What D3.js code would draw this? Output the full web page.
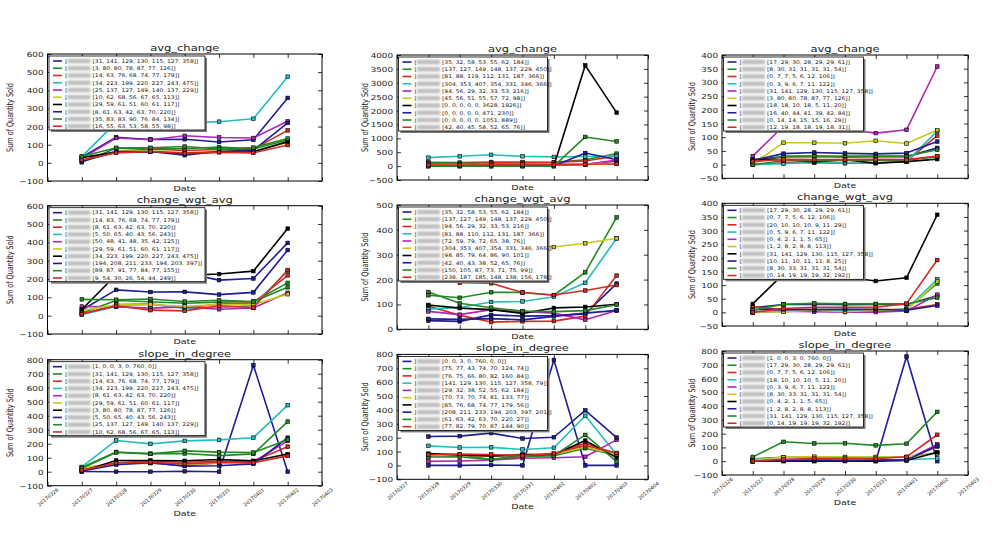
<!DOCTYPE html>
<html><head><meta charset="utf-8">
<script src="https://cdn.jsdelivr.net/npm/d3@7"></script>
<style>
body{margin:0;background:#fff}
svg{display:block}
text{font-family:"DejaVu Sans",sans-serif;fill:#1a1a1a}
</style>
</head><body>
<svg id="c" width="1000" height="541"></svg>
<script>
// ---------------- DATA ----------------
const datesA = ["20170326","20170327","20170328","20170329","20170330","20170331","20170401","20170402","20170403"];
const datesB = ["20170327","20170328","20170329","20170330","20170331","20170401","20170402","20170403","20170404"];
const titles = ["avg_change", "change_wgt_avg", "slope_in_degree"];
const yLabel = "Sum of Quantity Sold";
const xLabel = "Date";
const colorCycle = ["#1e1e96", "#238a23", "#d42a24", "#25bcbc", "#b424b4", "#c8c824", "#000000", "#1e1e96", "#238a23", "#d42a24"];

const yTicksA = [-100, 0, 100, 200, 300, 400, 500, 600];
const yTicksB = [-500, 0, 500, 1000, 1500, 2000, 2500, 3000, 3500, 4000];
const yTicksC = [-50, 0, 50, 100, 150, 200, 250, 300, 350, 400];
const yTicksD = [0, 100, 200, 300, 400, 500];
const yTicksE = [-100, 0, 100, 200, 300, 400, 500, 600, 700, 800];

const avgChangeA = [
  [31,141,129,130,115,127,358],
  [3,80,80,78,87,77,126],
  [14,63,76,68,74,77,179],
  [34,223,199,220,227,243,475],
  [25,137,127,149,140,137,229],
  [10,62,68,56,67,65,113],
  [29,59,61,51,60,61,117],
  [8,61,63,42,63,70,220],
  [35,83,83,90,76,84,134],
  [16,55,63,53,58,55,98]
];
const avgChangeB = [
  [35,32,58,53,55,62,184],
  [137,127,149,148,137,229,450],
  [81,88,119,112,131,187,366],
  [304,353,407,354,331,346,366],
  [94,56,29,32,33,53,216],
  [45,56,51,55,57,72,98],
  [0,0,0,0,0,3628,1926],
  [0,0,0,0,0,471,230],
  [0,0,0,0,0,1051,889],
  [42,40,45,58,52,65,76]
];
const avgChangeC = [
  [17,29,30,28,29,29,61],
  [8,30,31,31,31,31,54],
  [0,7,7,5,6,12,106],
  [0,3,9,6,7,11,122],
  [31,141,129,130,115,127,358],
  [3,80,80,78,87,77,126],
  [18,18,10,18,5,11,20],
  [16,40,44,41,39,42,84],
  [0,14,14,15,15,16,29],
  [12,19,18,18,19,18,31]
];
const wgtAvgA = [
  [31,141,129,130,115,127,358],
  [14,83,76,68,74,77,179],
  [8,61,63,42,63,70,220],
  [5,50,65,40,43,56,243],
  [50,48,41,48,35,42,125],
  [29,59,61,51,60,61,117],
  [34,223,199,220,227,243,475],
  [194,208,211,233,194,203,397],
  [89,87,91,77,84,77,155],
  [9,54,30,26,54,44,249]
];
const wgtAvgB = [
  [35,32,58,53,55,62,184],
  [137,127,149,148,137,229,450],
  [94,56,29,32,33,53,216],
  [81,88,110,112,131,187,366],
  [72,59,79,72,65,38,76],
  [304,353,407,354,331,346,366],
  [98,85,79,64,86,90,101],
  [42,40,43,38,52,65,76],
  [150,105,87,73,71,75,99],
  [238,187,185,148,138,156,178]
];
const wgtAvgC = [
  [17,29,30,28,29,29,61],
  [0,7,7,5,6,12,106],
  [20,10,10,10,9,11,29],
  [0,5,9,6,7,11,122],
  [0,4,2,1,1,5,65],
  [1,2,8,2,8,8,113],
  [31,141,129,130,115,127,358],
  [10,11,10,11,11,8,25],
  [8,30,33,31,31,31,54],
  [0,14,19,19,19,32,192]
];
const slopeA = [
  [1,0,0,3,0,760,0],
  [31,141,129,130,115,127,358],
  [14,63,76,68,74,77,179],
  [34,223,199,220,227,243,475],
  [8,61,63,42,63,70,220],
  [29,59,61,51,60,61,117],
  [3,80,80,78,87,77,126],
  [5,50,65,40,43,56,243],
  [25,137,127,149,140,137,229],
  [10,62,68,56,67,65,113]
];
const slopeB = [
  [0,0,3,0,760,0,0],
  [75,77,43,74,70,124,74],
  [76,75,66,80,82,160,84],
  [141,129,130,115,127,358,79],
  [29,32,38,52,55,62,184],
  [70,73,70,74,81,133,77],
  [85,76,68,74,77,179,56],
  [208,211,233,194,203,397,201],
  [61,63,42,63,70,220,27],
  [77,82,79,70,87,144,90]
];
const slopeC = [
  [1,0,0,3,0,760,0],
  [17,29,30,28,29,29,61],
  [0,7,7,5,6,12,106],
  [18,10,10,10,5,11,20],
  [0,3,9,6,7,11,122],
  [8,30,33,31,31,31,54],
  [0,4,2,1,1,5,65],
  [1,2,8,2,8,8,113],
  [31,141,129,130,115,127,358],
  [0,14,19,19,19,32,192]
];

// ---------------- LAYOUT ----------------
const cols = [
  {x0: 47.5, x1: 322, yl: 13, legW: 156},
  {x0: 397, x1: 648, yl: 368, legW: 149},
  {x0: 722, x1: 968, yl: 695, legW: 140}
];
const panels = [
  {c:0, r:0, top:54, bottom:181, data:avgChangeA, ticks:yTicksA, dates:datesA},
  {c:1, r:0, top:55, bottom:180, data:avgChangeB, ticks:yTicksB, dates:datesB},
  {c:2, r:0, top:55, bottom:178.3, data:avgChangeC, ticks:yTicksC, dates:datesA},
  {c:0, r:1, top:205.7, bottom:334, data:wgtAvgA, ticks:yTicksA, dates:datesA},
  {c:1, r:1, top:205, bottom:329.3, data:wgtAvgB, ticks:yTicksD, dates:datesB},
  {c:2, r:1, top:203.3, bottom:326, data:wgtAvgC, ticks:yTicksC, dates:datesA},
  {c:0, r:2, top:359.7, bottom:485.7, data:slopeA, ticks:yTicksE, dates:datesA},
  {c:1, r:2, top:354.4, bottom:479.3, data:slopeB, ticks:yTicksE, dates:datesB},
  {c:2, r:2, top:351, bottom:475, data:slopeC, ticks:yTicksE, dates:datesA}
];

const SQ = 0.8; // vertical squish of the original picture
const svg = d3.select("#c");
const defs = svg.append("defs");
defs.append("filter").attr("id","blur").attr("x","-30%").attr("y","-100%").attr("width","160%").attr("height","300%")
  .append("feGaussianBlur").attr("stdDeviation", 1.3);

const fmt = v => (v < 0 ? "\u2212" + Math.abs(v) : String(v));

panels.forEach((p, pi) => {
  const col = cols[p.c];
  const g = svg.append("g");
  const x = d3.scalePoint().domain(p.dates).range([col.x0, col.x1]);
  const y = d3.scaleLinear().domain([p.ticks[0], p.ticks[p.ticks.length - 1]]).range([p.bottom, p.top]);

  defs.append("clipPath").attr("id", "clip" + pi).append("rect")
    .attr("x", col.x0).attr("y", p.top).attr("width", col.x1 - col.x0).attr("height", p.bottom - p.top);

  // axes (inward ticks on all sides)
  const ax = (gen, tx, ty) => {
    const a = g.append("g").attr("transform", `translate(${tx},${ty})`).call(gen);
    a.select(".domain").remove();
    a.selectAll("line").attr("stroke", "#000").attr("stroke-width", 0.8);
    return a;
  };
  const left = ax(d3.axisLeft(y).tickValues(p.ticks).tickSize(-4).tickPadding(4).tickFormat(fmt), col.x0, 0);
  left.selectAll("text").style("font-size", "8.8px").attr("fill", "#1a1a1a")
    .attr("transform", `scale(1,${SQ})`).attr("dy", "0.36em");
  ax(d3.axisRight(y).tickValues(p.ticks).tickSize(-4).tickFormat(""), col.x1, 0);
  ax(d3.axisTop(x).tickSize(-4).tickFormat(""), 0, p.top);
  const bottom = ax(d3.axisBottom(x).tickSize(-4).tickFormat(p.r === 2 ? (d => d) : ""), 0, p.bottom);
  if (p.r === 2) {
    bottom.selectAll("text").style("font-size", "5px").attr("fill", "#333")
      .attr("y", null).attr("dy", "0.35em").attr("text-anchor", "middle")
      .attr("transform", "translate(0,11.5) rotate(-40)");
  }

  // frame
  g.append("rect").attr("x", col.x0).attr("y", p.top).attr("width", col.x1 - col.x0).attr("height", p.bottom - p.top)
    .attr("fill", "none").attr("stroke", "#000").attr("stroke-width", 1);

  // title
  g.append("text").attr("transform", `translate(${(col.x0 + col.x1) / 2},${p.top - 3}) scale(1,${SQ})`)
    .attr("text-anchor", "middle").style("font-size", "11.5px").text(titles[p.r]);

  // x label
  const dy = p.r === 2 ? 30 : 10;
  g.append("text").attr("transform", `translate(${(col.x0 + col.x1) / 2},${p.bottom + dy}) scale(1,${SQ})`)
    .attr("text-anchor", "middle").style("font-size", "9.5px").text(xLabel);

  // y label
  g.append("text").attr("transform", `translate(${col.yl},${(p.top + p.bottom) / 2}) rotate(-90) scale(0.72,1)`)
    .attr("text-anchor", "middle").style("font-size", "9px").text(yLabel);

  // series
  const line = d3.line().x((d, i) => x(p.dates[i + 1])).y(d => y(d));
  const lg = g.append("g").attr("clip-path", `url(#clip${pi})`);
  p.data.forEach((vals, si) => {
    lg.append("path").attr("d", line(vals)).attr("fill", "none")
      .attr("stroke", colorCycle[si]).attr("stroke-width", 1.6).attr("stroke-linejoin", "round");
    lg.selectAll(null).data(vals).enter().append("rect")
      .attr("x", (d, i) => x(p.dates[i + 1]) - 1.8).attr("y", d => y(d) - 1.8)
      .attr("width", 3.6).attr("height", 3.6)
      .attr("fill", colorCycle[si]).attr("stroke", "#000").attr("stroke-width", 0.6);
  });

  // legend
  const Lx = col.x0 + 1.5, Ly = p.top + 2, Lw = col.legW, Lh = 74;
  const leg = g.append("g");
  leg.append("rect").attr("x", Lx + 2).attr("y", Ly + 2).attr("width", Lw).attr("height", Lh).attr("fill", "#7a7a7a");
  leg.append("rect").attr("x", Lx).attr("y", Ly).attr("width", Lw).attr("height", Lh)
    .attr("fill", "#fff").attr("stroke", "#000").attr("stroke-width", 0.8);
  p.data.forEach((vals, si) => {
    const ry = Ly + 5 + si * 7.25;
    leg.append("line").attr("x1", Lx + 4).attr("x2", Lx + 13).attr("y1", ry).attr("y2", ry)
      .attr("stroke", colorCycle[si]).attr("stroke-width", 1.6);
    leg.append("text").attr("transform", `translate(${Lx + 16},${ry}) scale(1,0.85)`).attr("dy", "0.35em")
      .style("font-size", "6px").text("[");
    leg.append("rect").attr("x", Lx + 18.5).attr("y", ry - 2.3).attr("width", 23).attr("height", 4.6)
      .attr("fill", "#bdbdbd").attr("filter", "url(#blur)");
    leg.append("text").attr("transform", `translate(${Lx + 43.5},${ry}) scale(1,0.85)`).attr("dy", "0.35em")
      .style("font-size", "6px").text("[" + vals.join(", ") + "]]");
  });
});
</script>
</body></html>
